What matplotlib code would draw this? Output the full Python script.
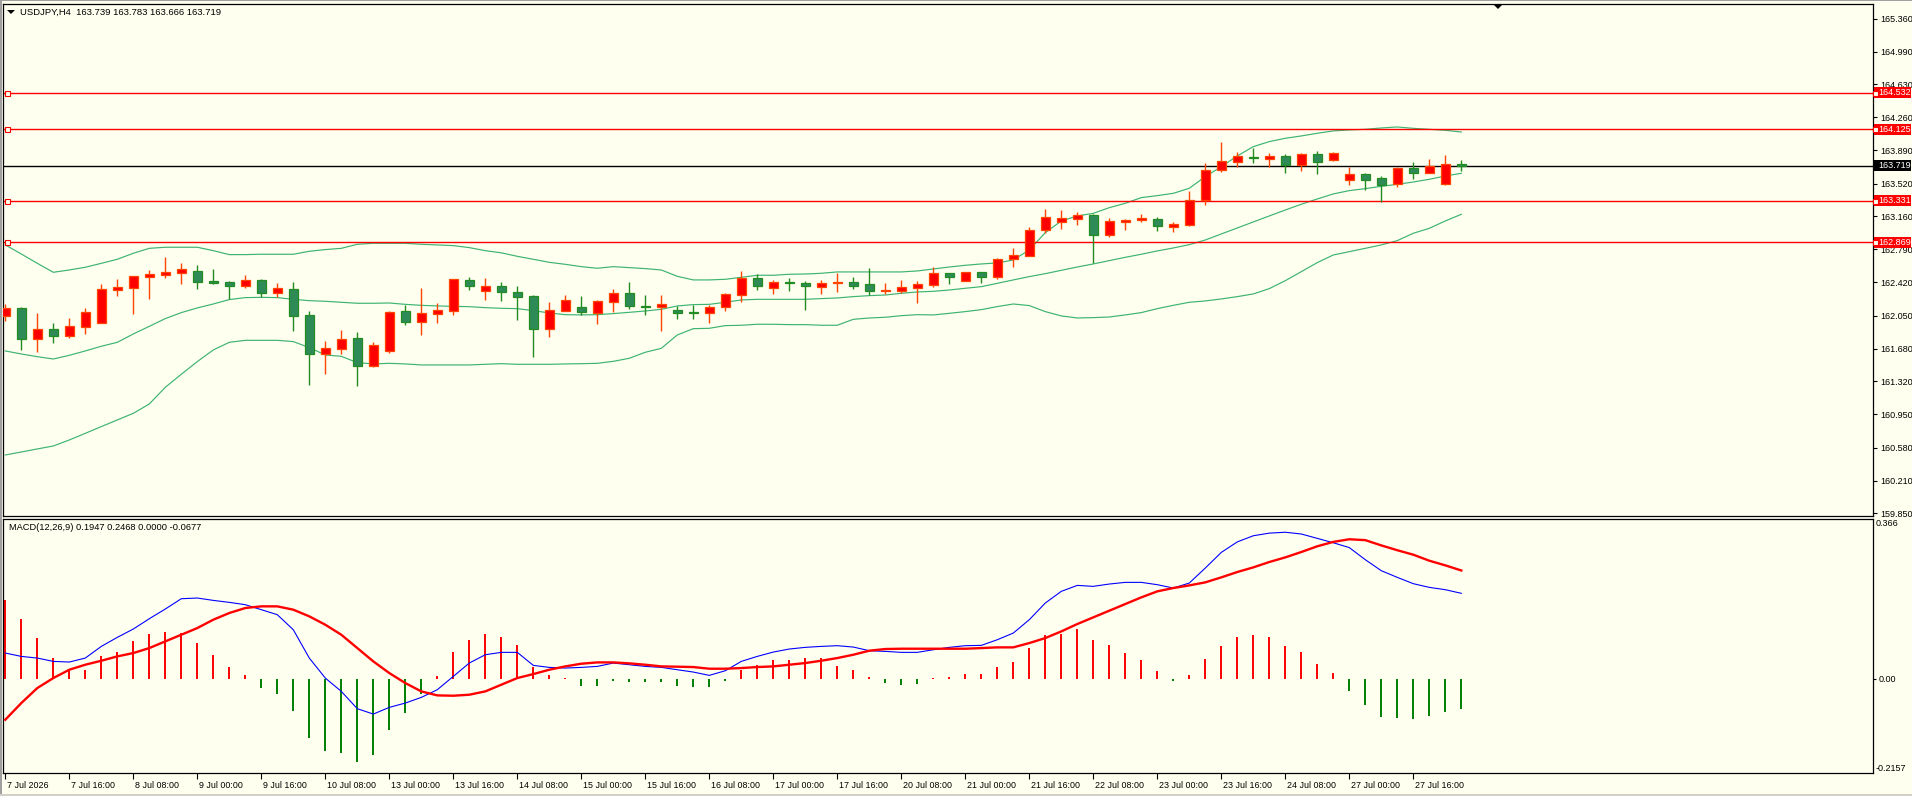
import matplotlib
matplotlib.use('Agg')
import matplotlib.pyplot as plt
import matplotlib.transforms as mtrans
from matplotlib.patches import Rectangle, Polygon
import numpy as np

plt.rcParams['font.family'] = ['Liberation Sans', 'DejaVu Sans']

# ---------------- data ----------------
symbol_title = 'USDJPY,H4  163.739 163.783 163.666 163.719'
macd_title = 'MACD(12,26,9) 0.1947 0.2468 0.0000 -0.0677'

opens = [162.050, 162.132, 161.794, 161.902, 161.827, 161.928, 161.972, 162.340, 162.362, 162.485,
         162.507, 162.529, 162.544, 162.436, 162.425, 162.384, 162.448, 162.306, 162.344, 162.054,
         161.627, 161.683, 161.801, 161.493, 161.660, 162.102, 161.983, 162.073, 162.106, 162.448,
         162.329, 162.377, 162.310, 162.266, 161.905, 162.106, 162.143, 162.084, 162.206, 162.299,
         162.158, 162.150, 162.110, 162.087, 162.084, 162.143, 162.284, 162.466, 162.362, 162.422,
         162.410, 162.373, 162.410, 162.422, 162.399, 162.329, 162.329, 162.362, 162.396, 162.522,
         162.440, 162.537, 162.485, 162.678, 162.719, 163.001, 163.098, 163.131, 163.168, 162.953,
         163.098, 163.112, 163.123, 163.042, 163.064, 163.335, 163.669, 163.766, 163.814, 163.799,
         163.825, 163.725, 163.848, 163.781, 163.558, 163.629, 163.580, 163.513, 163.692, 163.643,
         163.513, 163.739]
highs = [162.180, 162.143, 162.084, 161.969, 162.024, 162.136, 162.403, 162.459, 162.492, 162.559,
         162.704, 162.637, 162.615, 162.566, 162.436, 162.503, 162.455, 162.418, 162.425, 162.102,
         161.768, 161.891, 161.868, 161.757, 162.106, 162.173, 162.358, 162.195, 162.462, 162.485,
         162.470, 162.425, 162.381, 162.280, 162.202, 162.280, 162.269, 162.225, 162.351, 162.425,
         162.280, 162.280, 162.158, 162.173, 162.173, 162.303, 162.552, 162.511, 162.448, 162.470,
         162.436, 162.448, 162.529, 162.481, 162.581, 162.414, 162.448, 162.436, 162.592, 162.526,
         162.540, 162.540, 162.693, 162.804, 163.038, 163.239, 163.227, 163.205, 163.179, 163.138,
         163.123, 163.183, 163.149, 163.094, 163.439, 163.751, 163.985, 163.870, 163.922, 163.859,
         163.851, 163.859, 163.885, 163.874, 163.707, 163.636, 163.603, 163.707, 163.762, 163.796,
         163.840, 163.783]
lows = [161.994, 161.668, 161.645, 161.742, 161.801, 161.846, 161.968, 162.269, 162.069, 162.236,
        162.470, 162.403, 162.347, 162.399, 162.232, 162.362, 162.258, 162.258, 161.883, 161.278,
        161.400, 161.623, 161.270, 161.482, 161.638, 161.946, 161.835, 161.969, 162.058, 162.336,
        162.225, 162.214, 162.002, 161.593, 161.816, 162.100, 162.054, 161.957, 162.091, 162.128,
        162.058, 161.879, 162.013, 162.013, 161.972, 162.106, 162.202, 162.336, 162.292, 162.329,
        162.113, 162.292, 162.314, 162.347, 162.277, 162.292, 162.299, 162.191, 162.370, 162.403,
        162.437, 162.418, 162.462, 162.596, 162.715, 162.968, 163.020, 163.064, 162.641, 162.930,
        163.005, 163.098, 162.994, 162.982, 163.053, 163.287, 163.654, 163.710, 163.755, 163.710,
        163.643, 163.666, 163.632, 163.778, 163.510, 163.454, 163.320, 163.487, 163.573, 163.640,
        163.510, 163.666]
closes = [162.132, 161.794, 161.902, 161.827, 161.931, 162.091, 162.344, 162.366, 162.488, 162.514,
          162.537, 162.566, 162.425, 162.418, 162.384, 162.444, 162.306, 162.355, 162.050, 161.627,
          161.690, 161.790, 161.493, 161.723, 162.091, 161.983, 162.080, 162.113, 162.459, 162.384,
          162.381, 162.318, 162.262, 161.905, 162.110, 162.225, 162.095, 162.210, 162.299, 162.162,
          162.150, 162.176, 162.084, 162.084, 162.143, 162.288, 162.466, 162.384, 162.422, 162.410,
          162.384, 162.410, 162.425, 162.384, 162.329, 162.336, 162.366, 162.399, 162.526, 162.485,
          162.537, 162.485, 162.678, 162.722, 163.001, 163.146, 163.135, 163.168, 162.953, 163.101,
          163.116, 163.135, 163.053, 163.068, 163.335, 163.669, 163.770, 163.825, 163.810, 163.825,
          163.725, 163.848, 163.766, 163.859, 163.625, 163.565, 163.510, 163.692, 163.643, 163.718,
          163.739, 163.719]

bb_upper = [162.838, 162.737, 162.633, 162.533, 162.559, 162.589, 162.633, 162.678, 162.745, 162.800,
            162.812, 162.812, 162.812, 162.774, 162.730, 162.730, 162.734, 162.734, 162.734, 162.767,
            162.786, 162.800, 162.845, 162.856, 162.856, 162.856, 162.845, 162.838, 162.830, 162.808,
            162.774, 162.750, 162.711, 162.678, 162.644, 162.622, 162.596, 162.578, 162.596, 162.585,
            162.574, 162.559, 162.488, 162.448, 162.448, 162.455, 162.477, 162.500, 162.500, 162.511,
            162.514, 162.522, 162.537, 162.537, 162.537, 162.537, 162.537, 162.548, 162.570, 162.592,
            162.611, 162.626, 162.637, 162.670, 162.782, 162.975, 163.105, 163.161, 163.190, 163.253,
            163.302, 163.365, 163.387, 163.413, 163.469, 163.599, 163.710, 163.829, 163.933, 163.989,
            164.026, 164.052, 164.082, 164.108, 164.119, 164.126, 164.141, 164.152, 164.137, 164.126,
            164.115, 164.096]
bb_middle = [161.657, 161.623, 161.593, 161.567, 161.608, 161.657, 161.709, 161.753, 161.846, 161.931,
             162.017, 162.084, 162.136, 162.180, 162.229, 162.251, 162.254, 162.251, 162.232, 162.217,
             162.210, 162.199, 162.188, 162.188, 162.191, 162.176, 162.165, 162.158, 162.154, 162.150,
             162.139, 162.132, 162.128, 162.106, 162.080, 162.061, 162.058, 162.061, 162.073, 162.087,
             162.102, 162.121, 162.158, 162.173, 162.176, 162.199, 162.225, 162.232, 162.232, 162.232,
             162.232, 162.240, 162.247, 162.262, 162.273, 162.280, 162.299, 162.314, 162.321, 162.336,
             162.355, 162.373, 162.410, 162.448, 162.485, 162.518, 162.555, 162.592, 162.626, 162.663,
             162.700, 162.734, 162.771, 162.804, 162.841, 162.893, 162.960, 163.027, 163.094, 163.161,
             163.227, 163.291, 163.350, 163.406, 163.443, 163.465, 163.491, 163.513, 163.539, 163.569,
             163.606, 163.636]
bb_lower = [160.498, 160.531, 160.565, 160.598, 160.665, 160.739, 160.814, 160.888, 160.962, 161.066,
            161.252, 161.397, 161.538, 161.668, 161.753, 161.775, 161.775, 161.775, 161.761, 161.694,
            161.612, 161.597, 161.527, 161.512, 161.519, 161.512, 161.501, 161.501, 161.501, 161.501,
            161.508, 161.515, 161.508, 161.508, 161.508, 161.512, 161.515, 161.519, 161.541, 161.575,
            161.642, 161.686, 161.835, 161.905, 161.909, 161.939, 161.943, 161.954, 161.954, 161.950,
            161.950, 161.943, 161.943, 162.009, 162.024, 162.032, 162.050, 162.061, 162.058, 162.076,
            162.095, 162.117, 162.151, 162.180, 162.162, 162.095, 162.047, 162.024, 162.028, 162.035,
            162.058, 162.084, 162.128, 162.165, 162.199, 162.214, 162.236, 162.262, 162.292, 162.351,
            162.440, 162.540, 162.641, 162.726, 162.763, 162.800, 162.838, 162.886, 162.968, 163.023,
            163.105, 163.179]

macd_hist = [0.180, 0.136, 0.093, 0.047, 0.018, 0.020, 0.051, 0.062, 0.085, 0.102,
             0.106, 0.104, 0.081, 0.054, 0.027, 0.009, -0.021, -0.035, -0.073, -0.135,
             -0.164, -0.169, -0.189, -0.173, -0.117, -0.078, -0.034, 0.007, 0.062, 0.088,
             0.101, 0.095, 0.076, 0.027, 0.008, 0.002, -0.016, -0.016, -0.005, -0.008,
             -0.008, -0.008, -0.016, -0.020, -0.020, -0.005, 0.021, 0.032, 0.043, 0.043,
             0.047, 0.047, 0.030, 0.019, 0.005, -0.010, -0.014, -0.012, 0.002, 0.004,
             0.011, 0.011, 0.027, 0.037, 0.070, 0.099, 0.103, 0.113, 0.089, 0.076,
             0.059, 0.042, 0.018, -0.005, 0.008, 0.045, 0.074, 0.095, 0.099, 0.095,
             0.075, 0.061, 0.033, 0.013, -0.027, -0.059, -0.087, -0.089, -0.091, -0.086,
             -0.075, -0.068]
macd_main = [0.0585, 0.0509, 0.0471, 0.0395, 0.0380, 0.0471, 0.0737, 0.0943, 0.1133, 0.1368,
             0.1589, 0.1824, 0.1840, 0.1786, 0.1741, 0.1688, 0.1574, 0.1460, 0.1117, 0.0471,
             0.0015, -0.0289, -0.0684, -0.0806, -0.0654, -0.0555, -0.0426, -0.0251, 0.0053, 0.0357,
             0.0547, 0.0601, 0.0601, 0.0304, 0.0258, 0.0243, 0.0258, 0.0281, 0.0357, 0.0319,
             0.0281, 0.0258, 0.0205, 0.0152, 0.0076, 0.0182, 0.0395, 0.0509, 0.0608, 0.0677,
             0.0715, 0.0737, 0.0753, 0.0722, 0.0639, 0.0623, 0.0601, 0.0601, 0.0661, 0.0715,
             0.0753, 0.0760, 0.0889, 0.1041, 0.1346, 0.1726, 0.1992, 0.2128, 0.2106, 0.2159,
             0.2197, 0.2197, 0.2144, 0.2068, 0.2182, 0.2524, 0.2880, 0.3120, 0.3260, 0.3320,
             0.3340, 0.3300, 0.3200, 0.3100, 0.2990, 0.2714, 0.2463, 0.2311, 0.2167, 0.2083,
             0.2030, 0.1947]
macd_signal = [-0.0935, -0.0555, -0.0213, 0.0015, 0.0205, 0.0319, 0.0410, 0.0509, 0.0585, 0.0699,
               0.0851, 0.1003, 0.1155, 0.1346, 0.1498, 0.1612, 0.1650, 0.1650, 0.1574, 0.1422,
               0.1231, 0.1003, 0.0699, 0.0395, 0.0129, -0.0099, -0.0289, -0.0380, -0.0388, -0.0365,
               -0.0289, -0.0137, 0.0015, 0.0106, 0.0205, 0.0281, 0.0342, 0.0372, 0.0372, 0.0350,
               0.0319, 0.0281, 0.0274, 0.0266, 0.0228, 0.0228, 0.0243, 0.0266, 0.0281, 0.0319,
               0.0357, 0.0410, 0.0471, 0.0547, 0.0639, 0.0677, 0.0684, 0.0684, 0.0684, 0.0684,
               0.0684, 0.0699, 0.0715, 0.0715, 0.0813, 0.0927, 0.1079, 0.1247, 0.1399, 0.1551,
               0.1703, 0.1855, 0.1992, 0.2068, 0.2128, 0.2197, 0.2311, 0.2433, 0.2539, 0.2661,
               0.2767, 0.2889, 0.3020, 0.3120, 0.3180, 0.3160, 0.3040, 0.2930, 0.2828, 0.2691,
               0.2585, 0.2468]

red_levels = [164.532, 164.125, 163.331, 162.869]
current_price = 163.719
price_ticks = [165.360, 164.990, 164.630, 164.260, 163.890, 163.520, 163.160, 162.790,
               162.420, 162.050, 161.680, 161.320, 160.950, 160.580, 160.210, 159.850]
macd_scale_labels = ['0.366', '0.00', '-0.2157']
time_labels = ['7 Jul 2026', '7 Jul 16:00', '8 Jul 08:00', '9 Jul 00:00', '9 Jul 16:00',
               '10 Jul 08:00', '13 Jul 00:00', '13 Jul 16:00', '14 Jul 08:00', '15 Jul 00:00',
               '15 Jul 16:00', '16 Jul 08:00', '17 Jul 00:00', '17 Jul 16:00', '20 Jul 08:00',
               '21 Jul 00:00', '21 Jul 16:00', '22 Jul 08:00', '23 Jul 00:00', '23 Jul 16:00',
               '24 Jul 08:00', '27 Jul 00:00', '27 Jul 16:00']
time_label_step = 4

# ---------------- layout ----------------
W, H = 1912, 796
BG = '#FFFFF0'
fig = plt.figure(figsize=(W / 100, H / 100), dpi=100, facecolor=BG)


def frac(x0, y0, x1, y1):
    return [x0 / W, 1 - y1 / H, (x1 - x0) / W, (y1 - y0) / H]


AX_L, AX_R = 3, 1873
ax = fig.add_axes(frac(AX_L, 4, AX_R, 516), facecolor=BG)
ax2 = fig.add_axes(frac(AX_L, 519, AX_R, 773), facecolor=BG)

BAR0, BARW = 5.3, 16.0
xlim = ((AX_L - BAR0) / BARW, (AX_R - BAR0) / BARW)
for a in (ax, ax2):
    a.set_xlim(*xlim)
    for s in a.spines.values():
        s.set_linewidth(0.9)
        s.set_color('black')

ax.set_ylim(159.818, 165.522)
ax2.set_ylim(-0.2150, 0.3642)

n = len(opens)
idx = np.arange(n)
o = np.array(opens); c = np.array(closes)
h = np.array(highs); l = np.array(lows)
up = c >= o
face = np.where(up, '#FF0000', '#2E8B57')
edge = np.where(up, '#FF4500', '#228B22')

# Bollinger bands
BB_COL = '#3CB371'
for band in (bb_upper, bb_middle, bb_lower):
    ax.plot(idx, band, color=BB_COL, lw=0.85, zorder=2)

# level lines
for lev in red_levels:
    ax.axhline(lev, color='#FF0000', lw=1.0, zorder=2.2)
    ax.plot([(7 - BAR0) / BARW], [lev], marker='s', ms=3.6, mfc=BG, mec='#FF0000',
            mew=0.8, zorder=6, clip_on=False)
ax.axhline(current_price, color='black', lw=1.0, zorder=2.2)

# candles
ax.vlines(idx, l, h, colors=edge, lw=1.0, zorder=3)
ax.bar(idx, np.abs(c - o), bottom=np.minimum(o, c), width=0.6, color=face,
       edgecolor=edge, linewidth=0.9, zorder=4)

# price scale
ax.yaxis.tick_right()
ax.set_yticks(price_ticks)
ax.set_yticklabels(['%.3f' % v for v in price_ticks])
ax.tick_params(axis='y', length=3, width=0.8, pad=2, labelsize=6.5, colors='black')
ax.tick_params(axis='x', bottom=False, labelbottom=False)

# price boxes at right
ytr = mtrans.blended_transform_factory(ax.transAxes, ax.transData)
axw = AX_R - AX_L
bx0 = (1874 - AX_L) / axw
bx1 = (1911 - AX_L) / axw
ppx = (165.522 - 159.818) / (516 - 4)
box_h = 11 * ppx
for lev, col in [(v, '#FF0000') for v in red_levels] + [(current_price, '#000000')]:
    ax.add_patch(Rectangle((bx0, lev - box_h / 2), bx1 - bx0, box_h, transform=ytr,
                           facecolor=col, edgecolor='none', zorder=8, clip_on=False))
    ax.text((1878 - AX_L) / axw, lev, '%.3f' % lev, transform=ytr, color='white',
            fontsize=6.5, va='center', ha='left', zorder=9, clip_on=False)
    if col != '#000000':
        ax.plot([(1875.5 - AX_L) / axw], [lev], transform=ytr, marker='s', ms=3.6, mfc=BG,
                mec='#FF0000', mew=0.8, zorder=10, clip_on=False)

# MACD panel
hist = np.array(macd_hist)
hcol = np.where(hist >= 0, '#FF0000', '#008000')
ax2.vlines(idx, 0, hist, colors=hcol, lw=1.4, zorder=2)
ax2.plot(idx, macd_main, color='#0000FF', lw=0.8, zorder=3)
ax2.plot(idx, macd_signal, color='#FF0000', lw=1.7, zorder=4)
ax2.yaxis.tick_right()
ax2.set_yticks([0.0])
ax2.set_yticklabels([macd_scale_labels[1]])
ax2.tick_params(axis='y', length=2, width=0.8, pad=2, labelsize=6.5)
mtr = mtrans.blended_transform_factory(ax2.transAxes, ax2.transData)
ax2.text(1.0 + 3 / axw, 0.3642, macd_scale_labels[0], transform=mtr,
         fontsize=6.5, va='top', ha='left', clip_on=False)
ax2.text(1.0 + 3 / axw, -0.2150, macd_scale_labels[2], transform=mtr,
         fontsize=6.5, va='bottom', ha='left', clip_on=False)

# time axis
tick_pos = [i * time_label_step for i in range(len(time_labels))]
ax2.set_xticks(tick_pos)
ax2.set_xticklabels(time_labels)
ax2.tick_params(axis='x', length=4, width=0.8, pad=1.5, labelsize=6.4)
offset = mtrans.ScaledTranslation(2 / 100, 0, fig.dpi_scale_trans)
for lbl in ax2.get_xticklabels():
    lbl.set_horizontalalignment('left')
    lbl.set_transform(lbl.get_transform() + offset)

# titles
fig.text(20 / W, 1 - 12.7 / H, symbol_title, fontsize=6.8, va='center', ha='left')
fig.text(9 / W, 1 - 527 / H, macd_title, fontsize=6.7, va='center', ha='left')
fig.patches.append(Polygon([[7, H - 10], [15, H - 10], [11, H - 14]], closed=True,
                           transform=None, facecolor='black', edgecolor='none'))
fig.patches.append(Polygon([[1493, H - 4], [1503, H - 4], [1498, H - 9]], closed=True,
                           transform=None, facecolor='black', edgecolor='none'))

# window border
fig.patches.append(Rectangle((0, 0), 1.5, H, transform=None, facecolor='#A0A0A0', edgecolor='none'))
fig.patches.append(Rectangle((0, H - 1), W, 1, transform=None, facecolor='#A0A0A0', edgecolor='none'))
fig.patches.append(Rectangle((0, 0), W, 2, transform=None, facecolor='#D4D0C8', edgecolor='none'))

fig.savefig('out.png', dpi=100, facecolor=BG)
